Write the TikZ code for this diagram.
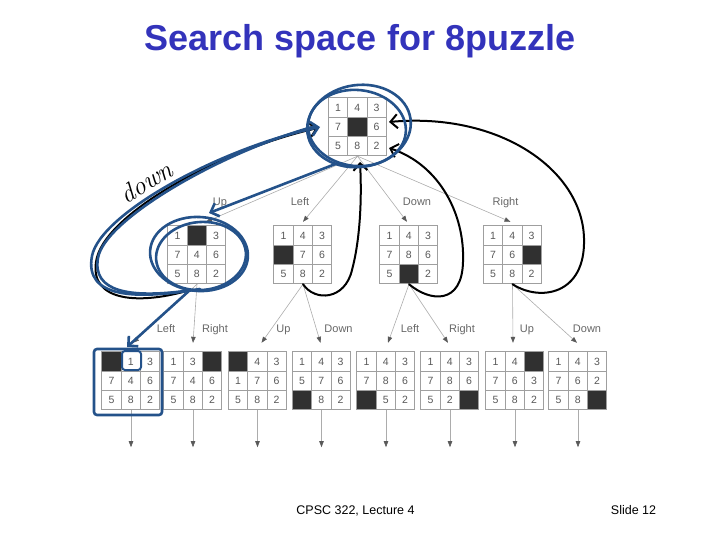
\documentclass[tikz,border=0pt]{standalone}
\usepackage{fontspec}
\newfontfamily\arial{Liberation Sans}
\usetikzlibrary{arrows.meta, positioning, calc}

\definecolor{titleblue}{RGB}{51,51,187}
\definecolor{inkblue}{RGB}{36,82,138}
\definecolor{tilegray}{RGB}{48,48,48}

\newcommand{\tilesize}{19.3}
% one 8-puzzle board: name, centre, nine entries (0 = blank tile)
\newcommand{\puzzle}[3]{%
  \node[board] (#1) at (#2) {};
  \foreach \val [count=\k from 0] in {#3} {
    \pgfmathtruncatemacro{\cx}{mod(\k,3)}
    \pgfmathtruncatemacro{\cy}{div(\k,3)}
    \coordinate (c) at ($(#1.north west)+(\cx*\tilesize,\cy*\tilesize)$);
    \ifnum\val=0
      \draw[tile, fill=tilegray] (c) rectangle ++(\tilesize,\tilesize);
    \else
      \draw[tile] (c) rectangle ++(\tilesize,\tilesize);
      \node[digit] at ($(c)+(0.5*\tilesize,0.5*\tilesize)$) {\val};
    \fi
  }
}

\begin{document}
\begin{tikzpicture}[x=1pt, y=-1pt,
    board/.style={minimum size=58pt, inner sep=0pt}, % a 3x3 board
    tile/.style={draw=gray!75, line width=0.7pt, fill=white}, % one cell
    digit/.style={font={\arial\fontsize{10.5}{12}\selectfont}, text=black!65},
    movelabel/.style={font={\arial\fontsize{11}{13}\selectfont}, text=black!60, inner sep=1pt, text height=8pt, text depth=2pt},
    treeedge/.style={draw=gray!65, line width=0.6pt, -{Triangle[length=6pt, width=4.5pt, color=black!65]}},
    blueink/.style={draw=inkblue, line width=2.6pt, line cap=round}, % pen marks
    blackink/.style={draw=black, line width=2pt, line cap=round},
    handtip/.style={-{Straight Barb[length=7pt, width=14pt]}}
]
    \useasboundingbox (0,0) rectangle (720,540);

    % Title
    \node[font={\arial\fontsize{36}{40}\selectfont\bfseries}, text=titleblue, anchor=base] (title) at (360,51) {Search space for 8puzzle};

    % Root
    \puzzle{r}{357.5,127}{1,4,3,7,0,6,5,8,2}

    % First level
    \puzzle{u}{197,255}{1,0,3,7,4,6,5,8,2}
    \puzzle{l}{303,255}{1,4,3,0,7,6,5,8,2}
    \puzzle{d}{409,255}{1,4,3,7,8,6,5,0,2}
    \puzzle{rt}{512.5,255}{1,4,3,7,6,0,5,8,2}

    % Second level
    \puzzle{uL}{131,381}{0,1,3,7,4,6,5,8,2}
    \puzzle{uR}{193,381}{1,3,0,7,4,6,5,8,2}
    \puzzle{lU}{257.5,381}{0,4,3,1,7,6,5,8,2}
    \puzzle{lD}{321.5,381}{1,4,3,5,7,6,0,8,2}
    \puzzle{dL}{386,381}{1,4,3,7,8,6,0,5,2}
    \puzzle{dR}{450,381}{1,4,3,7,8,6,5,2,0}
    \puzzle{rU}{515,381}{1,4,0,7,6,3,5,8,2}
    \puzzle{rD}{578,381}{1,4,3,7,6,2,5,8,0}

    % Move labels
    \node[movelabel, above=17pt of u, xshift=23pt] (mu) {Up};
    \node[movelabel, above=17pt of l, xshift=-3pt] (ml) {Left};
    \node[movelabel, above=17pt of d, xshift=8pt] (md) {Down};
    \node[movelabel, above=17pt of rt, xshift=-7pt] (mr) {Right};

    \node[movelabel, above=16pt of uL, xshift=35pt] (muL) {Left};
    \node[movelabel, above=16pt of uR, xshift=22pt] (muR) {Right};
    \node[movelabel, above=16pt of lU, xshift=26pt] (mlU) {Up};
    \node[movelabel, above=16pt of lD, xshift=17pt] (mlD) {Down};
    \node[movelabel, above=16pt of dL, xshift=24pt] (mdL) {Left};
    \node[movelabel, above=16pt of dR, xshift=12pt] (mdR) {Right};
    \node[movelabel, above=16pt of rU, xshift=12pt] (mrU) {Up};
    \node[movelabel, above=16pt of rD, xshift=9pt] (mrD) {Down};

    % Tree edges
    \draw[treeedge] (r.south) -- ([xshift=9pt, yshift=4pt]u.north);
    \draw[treeedge] (r.south) -- ([yshift=4pt]l.north);
    \draw[treeedge] (r.south) -- ([xshift=-2pt, yshift=4pt]d.north);
    \draw[treeedge] (r.south) -- ([xshift=-2pt, yshift=4pt]rt.north);

    \draw[treeedge] (u.south) -- ([xshift=2pt, yshift=9pt]uL.north);
    \draw[treeedge] (u.south) -- ([yshift=9pt]uR.north);
    \draw[treeedge] (l.south) -- ([xshift=4pt, yshift=9pt]lU.north);
    \draw[treeedge] (l.south) -- ([xshift=-1pt, yshift=9pt]lD.north);
    \draw[treeedge] (d.south) -- ([xshift=2pt, yshift=9pt]dL.north);
    \draw[treeedge] (d.south) -- ([xshift=-2pt, yshift=9pt]dR.north);
    \draw[treeedge] (rt.south) -- ([xshift=-2pt, yshift=9pt]rU.north);
    \draw[treeedge] (rt.south) -- ([xshift=-1pt, yshift=9pt]rD.north);

    \foreach \leaf in {uL,uR,lU,lD,dL,dR,rU,rD}
        \draw[treeedge] (\leaf.south) -- ++(0,37);

    % Black pen: back to the root
    \draw[blackink, handtip] (l.south) .. controls (315,302) and (345,300) .. (352,270)
        .. controls (360,240) and (362,200) .. (360,162);
    \draw[blackink, handtip] (d.south) .. controls (430,302) and (462,305) .. (463,262)
        .. controls (465,215) and (440,165) .. (389,148);
    \draw[blackink, handtip] (rt.south) .. controls (540,302) and (586,295) .. (584,238)
        .. controls (582,170) and (500,112) .. (389,122);
    \draw[blackink, handtip] (190,290) .. controls (140,305) and (90,302) .. (96,262)
        .. controls (102,215) and (220,150) .. (318,128);
    \node[rotate=31, font={\fontsize{26}{28}\selectfont\itshape}] (downnote) at (146,182) {down};

    % Blue pen: circles and arrows
    \draw[blueink, rotate around={8:(359,126)}] (359,126) ellipse [x radius=52pt, y radius=41pt];
    \draw[blueink, rotate around={-6:(357,128)}] (357,128) ellipse [x radius=49pt, y radius=38pt];
    \draw[blueink, rotate around={-4:(199,254)}] (199,254) ellipse [x radius=49pt, y radius=37pt];
    \draw[blueink, rotate around={5:(201,256)}] (201,256) ellipse [x radius=45pt, y radius=34pt];
    \draw[blueink, handtip] (338,163) -- (209,213);
    \draw[blueink] (185,291) .. controls (130,298) and (92,292) .. (98,258)
        .. controls (104,220) and (220,152) .. (316,126);
    \draw[blueink, handtip] (200,289) .. controls (135,300) and (84,298) .. (92,256)
        .. controls (100,214) and (220,148) .. (320,127);
    \draw[blueink, handtip] (190,290) -- (127,347);
    \draw[blueink, rounded corners=3pt] (94,349) rectangle (162,415);
    \draw[blueink, line width=2pt, rounded corners=3pt] (122,351) rectangle (141,370);

    % Footer
    \node[font={\arial\fontsize{12.5}{15}\selectfont}, anchor=base] (course) at (355.5,514) {CPSC 322, Lecture 4};
    \node[font={\arial\fontsize{12.5}{15}\selectfont}, anchor=base] (slide) at (633.5,514) {Slide 12};
\end{tikzpicture}
\end{document}
